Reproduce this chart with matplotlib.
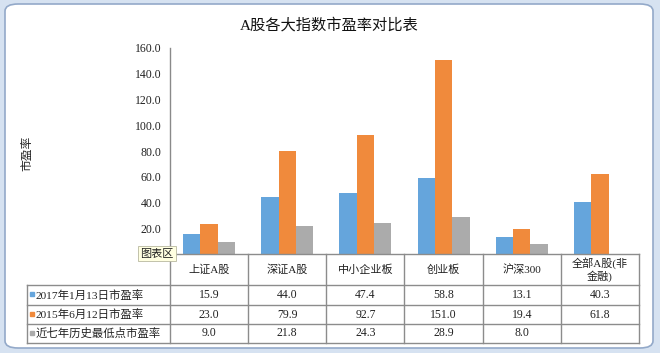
import numpy as np
import matplotlib
matplotlib.use("Agg")
import matplotlib.pyplot as plt
from matplotlib.patches import FancyBboxPatch
from matplotlib.lines import Line2D
from matplotlib.transforms import blended_transform_factory

# ---- data ----
categories = ['上证A股', '深证A股', '中小企业板', '创业板', '沪深300', '全部A股(非\n金融)']
series_names = ['2017年1月13日市盈率', '2015年6月12日市盈率', '近七年历史最低点市盈率']
pe_2017 = [15.9, 44.0, 47.4, 58.8, 13.1, 40.3]
pe_2015 = [23.0, 79.9, 92.7, 151.0, 19.4, 61.8]
pe_low = [9.0, 21.8, 24.3, 28.9, 8.0, None]
ytick_values = [20, 40, 60, 80, 100, 120, 140, 160]
title = 'A股各大指数市盈率对比表'
ylabel = '市盈率'

colors = ['#65a5dc', '#f08a3c', '#ababab']
FONT = ['Liberation Serif', 'Noto Sans CJK SC', 'DejaVu Sans']
plt.rcParams['font.family'] = FONT

W, H = 660, 353
fig = plt.figure(figsize=(W / 100, H / 100), dpi=100)
fig.patch.set_facecolor('#d6e2f1')

def fx(x):
    return x / W

def fy(y):
    return 1 - y / H

# chart frame
frame = FancyBboxPatch((fx(5), fy(348)), fx(653) - fx(5), fy(4) - fy(348),
                       boxstyle='round,pad=0,rounding_size=0.02',
                       transform=fig.transFigure, facecolor='white',
                       edgecolor='#93a9c9', linewidth=1.2, zorder=-5)
fig.patches.append(frame)

ax_left, ax_right, ax_top, ax_bottom = 170, 639, 48, 254
ax = fig.add_axes([fx(ax_left), fy(ax_bottom), fx(ax_right) - fx(ax_left), fy(ax_top) - fy(ax_bottom)])
ax.set_facecolor('none')
ax.set_zorder(1)

x = np.arange(len(categories))
bw = 0.222
series = [pe_2017, pe_2015, pe_low]
for k, (vals, c) in enumerate(zip(series, colors)):
    v = np.array([np.nan if a is None else a for a in vals], dtype=float)
    ax.bar(x + (k - 1) * bw, v, width=bw, color=c, edgecolor='none', zorder=2)

ax.set_xlim(-0.5, len(categories) - 0.5)
ax.set_ylim(0, 160)
ax.set_yticks(ytick_values)
ax.set_yticklabels([f'{v:.1f}' for v in ytick_values], fontsize=8.5)
ax.tick_params(axis='y', length=0, pad=6, colors='#222222')
ax.set_xticks([])
for s in ['top', 'right', 'bottom']:
    ax.spines[s].set_visible(False)
ax.spines['left'].set_color('#8a8a8a')
ax.spines['left'].set_linewidth(1.0)

# title and ylabel
fig.text(fx(329), fy(25), title, ha='center', va='center', fontsize=11, color='#111111')
fig.text(fx(27), fy(153), ylabel, ha='center', va='center', rotation=90, fontsize=8.5, color='#222222')

# ---- data table ----
tr = blended_transform_factory(ax.transData, fig.transFigure)
line_c = '#8c8c8c'
row_edges = [254, 285, 305, 324, 343]
tbl_left = 27
n = len(categories)

for i, ye in enumerate(row_edges):
    x0 = fx(ax_left) if i == 0 else fx(tbl_left)
    fig.add_artist(Line2D([x0, fx(ax_right)], [fy(ye), fy(ye)], transform=fig.transFigure,
                          color=line_c, lw=1.0))
for b in range(n + 1):
    fig.add_artist(Line2D([b - 0.5, b - 0.5], [fy(254), fy(343)], transform=tr,
                          color=line_c, lw=1.0))
fig.add_artist(Line2D([fx(tbl_left), fx(tbl_left)], [fy(285), fy(343)], transform=fig.transFigure,
                      color=line_c, lw=1.0))

hdr_c = (row_edges[0] + row_edges[1]) / 2
for i, cat in enumerate(categories):
    fig.text(i, fy(hdr_c), cat, transform=tr, ha='center', va='center', fontsize=8,
             color='#222222', linespacing=1.1)

for r, (name, vals, c) in enumerate(zip(series_names, series, colors)):
    yc = (row_edges[r + 1] + row_edges[r + 2]) / 2
    fig.add_artist(Line2D([fx(32)], [fy(yc - 1)], transform=fig.transFigure, marker='s',
                          markersize=3.2, color=c, linestyle='none'))
    fig.text(fx(36), fy(yc), name, ha='left', va='center', fontsize=8.2, color='#222222')
    for i, v in enumerate(vals):
        if v is None:
            continue
        fig.text(i, fy(yc), f'{v:.1f}', transform=tr, ha='center', va='center',
                 fontsize=8.5, color='#222222')

# tooltip
fig.text(fx(157), fy(253.5), '图表区', ha='center', va='center', fontsize=8, color='#222222',
         family=['Noto Sans CJK SC'],
         bbox=dict(boxstyle='square,pad=0.25', facecolor='#ffffe1', edgecolor='#b8b8a0', lw=0.6),
         zorder=10)

fig.savefig('out.png', dpi=100, facecolor=fig.get_facecolor())
